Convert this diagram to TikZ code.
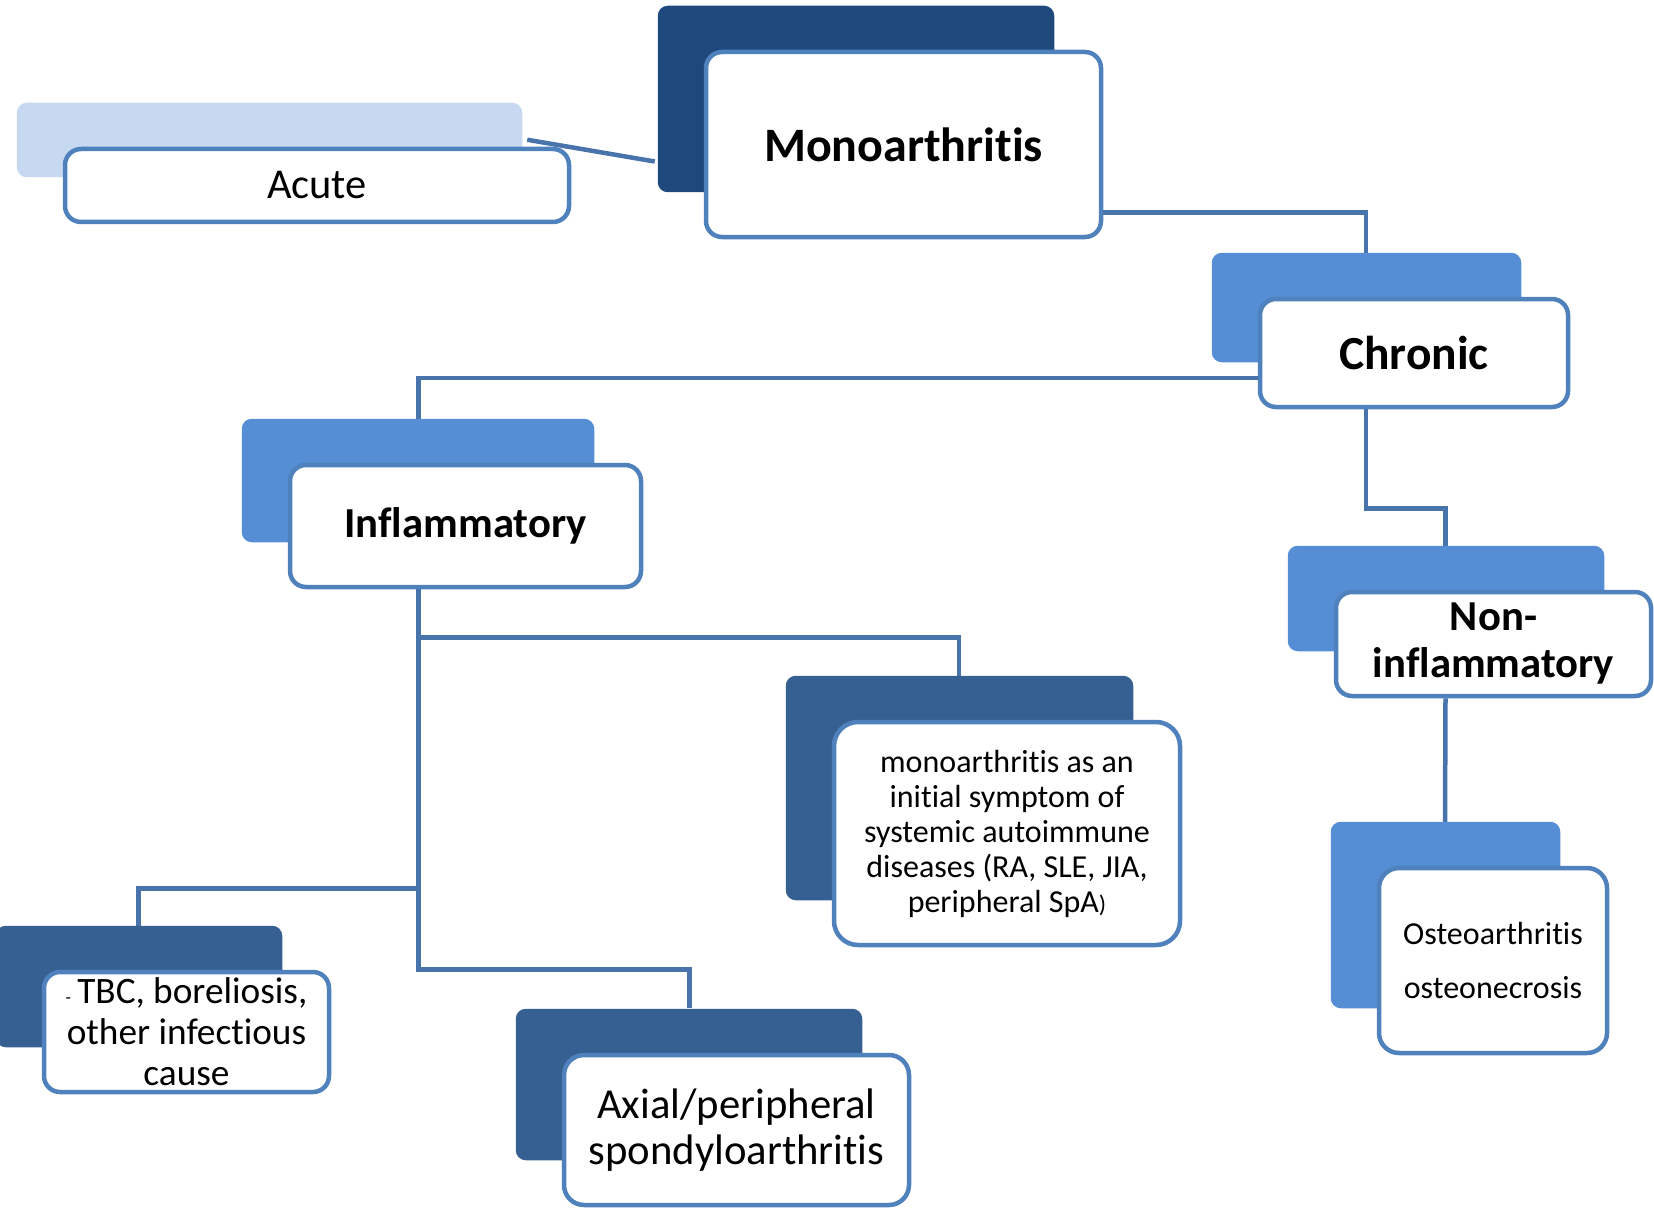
\documentclass[tikz,border=0pt]{standalone}
\usepackage{fontspec}
\setmainfont{Carlito}[Ligatures=NoCommon]
\usepackage{tikz}
\usetikzlibrary{calc,backgrounds}
\definecolor{boxline}{RGB}{79,129,189}
\definecolor{linkline}{RGB}{72,115,171}
\definecolor{paleblue}{RGB}{198,217,241}
\definecolor{navy}{RGB}{31,73,125}
\definecolor{midblue}{RGB}{85,142,213}
\definecolor{steelblue}{RGB}{54,96,146}
\tikzstyle{frontbox}=[draw=boxline,%
                      fill=white,%
                      line width=4.5pt,%
                      rectangle,%
                      rounded corners=16pt,%
                      align=center,%
                      inner sep=0pt]
\tikzstyle{link}=[draw=linkline,line width=4.5pt]
\tikzstyle{backbox}=[rounded corners=10pt]
\tikzstyle{bigbold}=[font=\fontsize{48}{52}\bfseries\selectfont]
\tikzstyle{midbold}=[font=\fontsize{42.7}{47}\bfseries\selectfont]

\begin{document}
\begin{tikzpicture}[x=1pt,y=-1pt]
  \useasboundingbox (0,0) rectangle (1654,1209);
  % boxes in front
  \node[frontbox,bigbold,minimum width=395,minimum height=185] (mono) at (903.5,144.5) {Monoarthritis};
  \node[frontbox,font=\fontsize{42.5}{47}\selectfont,minimum width=504,minimum height=73] (acute) at (317,185.5) {Acute};
  \node[frontbox,font=\fontsize{47.5}{52}\bfseries\selectfont,minimum width=308,minimum height=108] (chronic) at (1414,353) {Chronic};
  \node[frontbox,midbold,minimum width=351,minimum height=122] (infl) at (465.5,526) {Inflammatory};
  \node[frontbox,midbold,minimum width=315,minimum height=104] (noninfl) at (1493.5,644) {Non-\\inflammatory};
  \node[frontbox,font=\fontsize{32}{35}\selectfont,minimum width=346,minimum height=223,rounded corners=24pt] (initial) at (1007,833.5)
    {monoarthritis as an\\initial symptom of\\systemic autoimmune\\diseases (RA, SLE, JIA,\\peripheral SpA{\fontsize{24}{24}\selectfont)}};
  \node[frontbox,font=\fontsize{37.3}{41}\selectfont,minimum width=285,minimum height=120] (tbc) at (186.5,1032)
    {{\fontsize{18}{18}\selectfont -}\,TBC, boreliosis,\\other infectious\\cause};
  \node[frontbox,font=\fontsize{42.7}{46}\selectfont,minimum width=345,minimum height=150,rounded corners=20pt] (axial) at (736.5,1130)
    {Axial/peripheral\\spondyloarthritis};
  \node[frontbox,font=\fontsize{32}{54}\selectfont,minimum width=228,minimum height=185,rounded corners=20pt] (osteo) at (1493,960.5)
    {Osteoarthritis\\osteonecrosis};

  \begin{scope}[on background layer]
    % connectors
    \coordinate (acuteend) at ($(acute.north east)+(-44,-7)$);
    \coordinate (monoend) at ($(mono.west)+(-49,17)$);
    \draw[link] (acuteend) -- (monoend);
    \draw[link] ($(mono.east)+(0,68)$) -| ($(chronic.north)+(-48,-42)$);
    \draw[link] ($(chronic.west)+(0,25)$) -| ($(infl.north)+(-47,-43)$);
    \draw[link] ($(chronic.south)+(-48,0)$) -- ++(0,99) -| ($(noninfl.north)+(-48,-43)$);
    \draw[link] ($(noninfl.south)+(-48,0)$) -- ($(osteo.north)+(-48,-44)$);
    \coordinate (trunk) at ($(infl.south)+(-47,0)$);
    \draw[link] (trunk) -- ++(0,380) -| ($(axial.north)+(-47,-45)$);
    \draw[link] ($(trunk)+(0,48)$) -| ($(initial.north)+(-48,-44)$);
    \draw[link] ($(trunk)+(0,299)$) -| ($(tbc.north)+(-48,-43)$);
    % shaded boxes behind
    \foreach \n/\c in {acute/paleblue,mono/navy,chronic/midblue,infl/midblue,noninfl/midblue,%
                       osteo/midblue,initial/steelblue,tbc/steelblue,axial/steelblue}
      \fill[backbox,fill=\c] ($(\n.north west)+(-46,-44)$) rectangle ($(\n.south east)+(-49,-47)$);
  \end{scope}
\end{tikzpicture}
\end{document}
